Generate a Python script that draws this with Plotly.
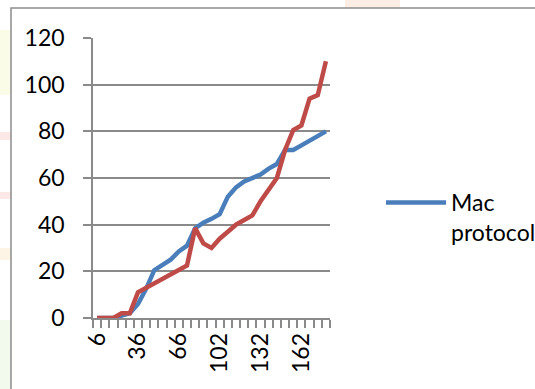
import plotly.graph_objects as go

categories = [6, 12, 18, 24, 30, 36, 42, 48, 54, 60, 66, 72, 78, 84, 90,
              102, 108, 114, 120, 126, 132, 138, 144, 150, 156, 162, 168, 174, 180]
mac_protocol = [0, 0, 0, 1, 2, 6, 12.5, 20.5, 22.5, 25, 28.5, 31, 38.5, 40.8, 42.5,
                44.5, 52, 56, 58.5, 60, 61.5, 64, 66, 72, 72, 74, 76, 78, 80]
series2 = [0, 0, 0, 2, 2, 11, 13, 15, 17, 19, 21, 22.5, 38.5, 32, 30,
           34, 37, 40, 42, 44, 50, 55, 60, 72, 80.5, 82.5, 94, 95.5, 110]
series_names = ["Mac<br>protocol", "Series2"]
label_every = 5

pos = list(range(len(categories)))
tick_pos = pos[::label_every]
tick_text = [str(c) for c in categories[::label_every]]

FONT = "Lato"
GRID = "#8a8a8a"

fig = go.Figure()
fig.add_trace(go.Scatter(x=pos, y=mac_protocol, mode="lines", name=series_names[0],
                         line=dict(color="#4A7EBB", width=4.5)))
fig.add_trace(go.Scatter(x=pos, y=series2, mode="lines", name=series_names[1],
                         line=dict(color="#BE4B48", width=4.5), showlegend=False))

W, H = 535, 389
L, R, T, B = 93, 205, 38, 71
pw, ph = W - L - R, H - T - B

def px(xp):
    return (xp - L) / pw

def py(yp):
    return (H - B - yp) / ph

shapes = []
# faint background watermark patches outside the chart border
for (x0, y0, x1, y1, col) in [
    (0, 30, 11, 95, "rgba(240,245,190,0.35)"),
    (0, 132, 11, 140, "rgba(250,190,190,0.35)"),
    (0, 192, 11, 199, "rgba(250,190,190,0.35)"),
    (0, 248, 11, 260, "rgba(250,220,170,0.3)"),
    (0, 320, 11, 389, "rgba(215,240,200,0.35)"),
    (345, 0, 400, 8, "rgba(250,200,170,0.3)"),
]:
    shapes.append(dict(type="rect", xref="paper", yref="paper",
                       x0=px(x0), x1=px(x1), y0=py(y1), y1=py(y0),
                       line=dict(width=0), fillcolor=col, layer="below"))
# chart border
shapes.append(dict(type="rect", xref="paper", yref="paper",
                   x0=px(11), x1=px(560), y0=py(420), y1=py(8),
                   line=dict(color="#8c8c8c", width=1.5), fillcolor="rgba(0,0,0,0)",
                   layer="below"))

fig.update_layout(
    width=W, height=H,
    margin=dict(l=L, r=R, t=T, b=B, autoexpand=False),
    paper_bgcolor="white", plot_bgcolor="white",
    font=dict(family=FONT, size=23, color="#000000"),
    shapes=shapes,
    showlegend=True,
    legend=dict(x=px(381), y=py(181), xanchor="left", yanchor="top",
                bgcolor="rgba(0,0,0,0)", valign="top", itemwidth=60,
                font=dict(family=FONT, size=23, color="#000000")),
    xaxis=dict(range=[-0.5, len(categories) - 0.5], tickmode="array",
               tickvals=tick_pos, ticktext=tick_text, tickangle=-90,
               ticks="", showgrid=False, zeroline=False,
               showline=True, linecolor=GRID, linewidth=1.5,
               minor=dict(ticks="outside", tick0=-0.5, dtick=1, ticklen=8,
                          tickcolor=GRID, tickwidth=1.5, showgrid=False),
               ticklabelstandoff=4,
               tickfont=dict(family=FONT, size=23)),
    yaxis=dict(range=[0, 120], dtick=20, tick0=0, showgrid=True,
               gridcolor=GRID, gridwidth=1.5, zeroline=False,
               showline=True, linecolor=GRID, linewidth=1.5,
               ticks="outside", ticklen=8, tickcolor=GRID, tickwidth=1.5,
               ticklabelstandoff=14,
               tickfont=dict(family=FONT, size=23)),
)

fig.write_html("out.html")
